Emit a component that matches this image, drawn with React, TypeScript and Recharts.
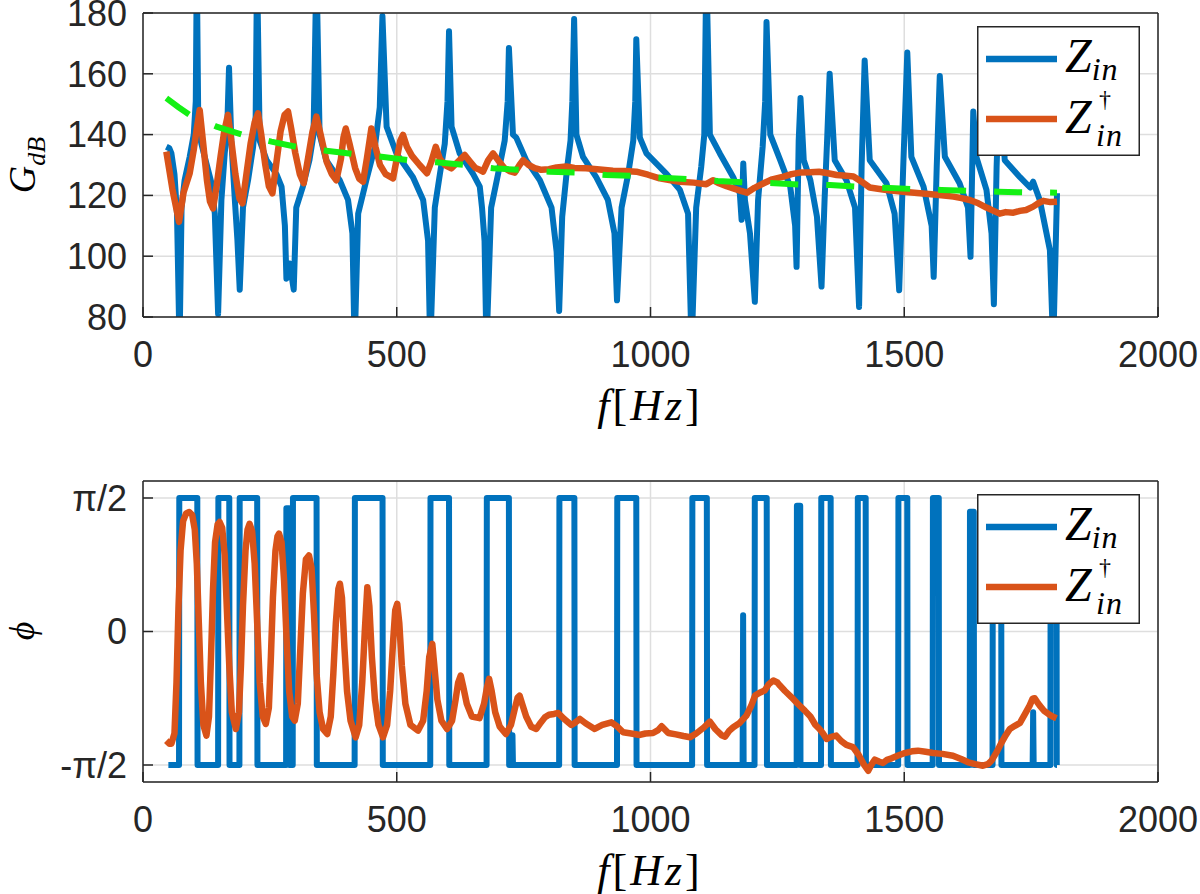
import { LineChart, Line, XAxis, YAxis, CartesianGrid, Legend } from 'recharts';

// frequency axis (Hz) and y ticks
const HZ_TICKS = [0, 500, 1000, 1500, 2000];
const DB_TICKS = [80, 100, 120, 140, 160, 180];
const PHASE_TICKS = [-Math.PI / 2, 0, Math.PI / 2];
const PHASE_LABELS = ['-π/2', '0', 'π/2'];

// Z_in gain [f (Hz), dB] – peaks/dips beyond the axis are clipped
const zinGain: [number, number][] = [
  [46, 136], [52, 135.5], [56, 133.8], [62, 127], [67, 114], [72, 70],
  [76, 116], [82, 125], [92, 132.7], [100, 140], [104, 151], [106, 195],
  [109, 142.6], [115, 137], [125, 130.5], [135, 124], [141.5, 114], [148, 81],
  [154.5, 118.5], [161, 133.8], [166, 142.6], [169.5, 162],
  [174, 138], [181, 118.5], [186, 105.4], [190.6, 89],
  [197, 116], [207, 125], [217, 136], [222, 146], [224.7, 195],
  [230, 138], [243.6, 131.6], [263, 127], [273, 122.9], [279.6, 110], [282.6, 92.6], [289, 97.6], [297, 89],
  [302, 116], [315, 122.9], [328, 131.6], [336, 140], [341.7, 195],
  [348, 140], [361, 131.6], [387.6, 125], [404, 118.5], [412.6, 107.5], [417, 70],
  [424, 114], [440, 125], [457, 136], [466.5, 149], [471.8, 179],
  [480, 142.6], [499.4, 133.8], [532, 126], [552, 118.5], [561.7, 105], [566, 70],
  [575, 116], [585, 127], [594.6, 137], [600, 151], [603, 174],
  [608, 142.6], [624, 133.8], [650.6, 127], [663.6, 122.9], [668, 116], [673, 105], [676.8, 70],
  [686, 116], [699.6, 127], [712.7, 138], [718.6, 151], [721, 168.5],
  [729, 140], [735.5, 139], [755, 131.6], [782, 125], [805, 116], [815, 101.5], [820, 82],
  [826, 113], [836, 129.5], [842.4, 138], [846, 151], [849.5, 178],
  [854, 140], [867, 132.7], [893, 126], [916, 118.5], [929, 107.5], [934, 85.5],
  [943, 116], [956, 127], [966, 138], [970, 151], [972, 171.4],
  [979, 139], [992, 133.8], [1032, 127], [1058, 121.8], [1074, 114], [1081, 70],
  [1090, 116], [1100, 129.5], [1106, 140], [1110, 195],
  [1117, 140], [1136.6, 133.8], [1163, 126], [1176, 120.7], [1179.5, 112], [1182.8, 130.5], [1186, 118.5], [1196, 107.5], [1205.6, 85],
  [1212, 118.5], [1221, 136], [1226, 151], [1228.6, 177],
  [1236, 140], [1255.6, 131.6], [1275.3, 122.9], [1285, 110], [1287.8, 96.5],
  [1292, 138], [1295.6, 152],
  [1302, 131.6], [1315, 125], [1328, 113], [1337, 90],
  [1343, 118.5], [1348, 138], [1353, 160],
  [1363, 131.6], [1386, 125], [1403, 116], [1411, 83.3],
  [1416, 129.5], [1422, 164.4],
  [1432, 131.6], [1465, 124], [1481, 114], [1490, 88.8],
  [1498, 129.5], [1506, 167],
  [1514, 132.7], [1538, 122.9], [1554, 110], [1558, 93.2],
  [1564, 129.5], [1570, 159.3],
  [1580, 132.7], [1609, 124], [1625.6, 116], [1630.6, 99.8],
  [1636, 147.6],
  [1642, 132.7], [1662, 121.8], [1672, 107.5], [1676.6, 84.2],
  [1682, 129.5], [1688, 160],
  [1698, 131.6], [1728, 126], [1748, 122.6], [1754, 124.5], [1767, 118.5], [1787, 102], [1793.5, 70], [1801, 120.7],
];

// Z_in dagger gain [f, dB]
const zinDagGain: [number, number][] = [
  [46, 134.4], [58, 122], [71, 111.3], [80, 121], [92, 127.3], [100, 135], [106, 142], [111.7, 148.1],
  [118, 138], [126, 125], [132, 118], [138, 115.7], [145, 123], [153, 133], [160, 141], [167.5, 146.5],
  [174, 138], [182, 127], [190, 119], [196, 117.4], [203, 126], [212, 137], [220, 144], [226.6, 147],
  [233, 140], [241, 130], [248, 123], [255, 120.7], [263, 131], [271, 141], [279, 146.5], [285.8, 147.6],
  [292, 142], [300, 134], [309, 127], [316.7, 124], [325, 132], [334, 141], [341.7, 145.9],
  [350, 140], [362, 131], [372, 127], [381, 125], [390, 132], [395, 139], [399.5, 142],
  [407, 137], [418, 129], [426, 125.5], [433.6, 124.5], [441, 132], [450, 142],
  [458, 136], [467, 130], [478, 127], [492.7, 125.6], [500, 132], [507, 138], [512.4, 139.9],
  [520, 136], [530, 133], [545, 130], [559.7, 127.3], [568, 131], [576.9, 136],
  [585, 132], [595, 130], [607.8, 128.9], [620, 131], [634, 133.3],
  [645, 131], [655, 129], [663.6, 128.4], [670, 127.8], [680, 131.5], [689.8, 133.8],
  [700, 131.5], [712, 129], [722, 128], [732.6, 127.5], [742, 130], [749, 131.6],
  [760, 130], [772, 129], [785, 128.4], [800, 128.6], [815, 129.2], [834, 129.5], [850, 129],
  [873, 128.9], [900, 128.5], [926, 128.1], [950, 128], [972, 127.8], [995, 126.8], [1018, 125.6],
  [1040, 125], [1058, 124.5], [1085, 124.2], [1110, 123.7], [1123, 125], [1135, 124], [1150, 123],
  [1163, 122.3], [1178, 121.5], [1190, 120.9], [1205, 122.5], [1223, 124], [1240, 125.3], [1262, 126.2],
  [1278, 127], [1294, 127.5], [1315, 127.6], [1332, 127.8], [1350, 127.3], [1367, 126.7], [1385, 126.5],
  [1400, 126.2], [1416, 124.5], [1432, 122.6], [1448, 122.2], [1465, 121.8], [1498, 121.2], [1531, 120.7],
  [1564, 120.2], [1597, 119.6], [1613, 119.1], [1629, 118.5], [1646, 117.4], [1662, 116], [1675, 115],
  [1688, 114], [1700, 114.5], [1715, 114.3], [1728, 114.9], [1740, 115.2], [1754, 116.3], [1765, 117.5],
  [1774, 118.2], [1788, 117.8], [1801, 117.9],
];

// trend line (green dashed) [f, dB]
const trendGain: [number, number][] = [
  [46, 152], [70, 149], [92, 146.5], [145, 142.6], [197, 139.9], [253, 137.7], [302, 136], [361, 134.7],
  [414, 133.6], [470, 132.7], [522, 131.6], [578, 130.9], [634, 130], [690, 128.9], [742, 128.4],
  [801, 127.8], [853, 127.5], [913, 126.7], [965, 126.4], [1021, 125.8], [1074, 125.4], [1133, 124.7],
  [1186, 124.3], [1245, 124], [1294, 123.6], [1354, 123.4], [1406, 122.9], [1462, 122.5], [1518, 122.1],
  [1573, 121.8], [1629, 121.5], [1685, 121.2], [1737, 121], [1801, 120.9],
];

// Z_in phase [f, rad]
const zinPhase: [number, number][] = [
  [50, -1.571], [71, -1.571], [71.5, 1.571], [107, 1.571], [107.5, -1.571], [148, -1.571], [148.5, 1.571],
  [170, 1.571], [170.5, -1.571], [190, -1.571], [190.5, 1.571], [225, 1.571], [225.5, -1.571],
  [282, -1.571], [282.5, 1.45], [288, 1.45], [288.5, -1.571], [295, -1.571], [295.5, 1.571],
  [342, 1.571], [342.5, -1.571], [417, -1.571], [417.5, 1.571], [472, 1.571], [472.5, -1.571],
  [566, -1.571], [566.5, 1.571], [603, 1.571], [603.5, -1.571], [677, -1.571], [677.5, 1.571],
  [721, 1.571], [721.5, -1.571], [727, -1.571], [728, -1.22], [729, -1.571], [820, -1.571], [820.5, 1.571],
  [850, 1.571], [850.5, -1.571], [934, -1.571], [934.5, 1.571], [972, 1.571], [972.5, -1.571],
  [1082, -1.571], [1082.5, 1.571], [1111, 1.571], [1111.5, -1.571], [1181.5, -1.571], [1182.5, 0.19],
  [1183.5, -1.571], [1205, -1.571], [1205.5, 1.571], [1229, 1.571], [1229.5, -1.571],
  [1288, -1.571], [1288.5, 1.48], [1295, 1.48], [1295.5, -1.571], [1336, -1.571], [1336.5, 1.571],
  [1355, 1.571], [1355.5, -1.571], [1408, -1.571], [1408.5, 1.571], [1424, 1.571], [1424.5, -1.571],
  [1488, -1.571], [1488.5, 1.571], [1506, 1.571], [1506.5, -1.571], [1556, -1.571], [1556.5, 1.571],
  [1568, 1.571], [1568.5, -1.571], [1629, -1.571], [1629.5, 1.41], [1637, 1.41], [1637.5, -1.571],
  [1674, -1.571], [1674.5, 1.571], [1691, 1.571], [1691.5, -1.571], [1753, -1.571], [1754, -0.95],
  [1755, -1.571], [1788, -1.571], [1788.5, 1.571], [1800, 1.571], [1800.5, -1.571], [1801, -1.571],
];

// Z_in dagger phase [f, rad]
const zinDagPhase: [number, number][] = [
  [46, -1.284], [52, -1.32], [56, -1.32], [62, -1.2], [66, -0.6], [70, 0.3], [74, 0.95], [79, 1.3],
  [85, 1.39], [91, 1.406], [97, 1.37], [102, 1.2], [106, 0.8], [110, 0.1], [114, -0.6], [119, -1.1],
  [125, -1.225], [130, -1.0], [134, -0.3], [138, 0.5], [142, 1.05], [147, 1.26], [151, 1.288], [156, 1.22],
  [161, 0.9], [165, 0.3], [170, -0.4], [175, -0.95], [183, -1.147], [189, -0.95], [193, -0.4], [197, 0.3],
  [202, 0.95], [206, 1.2], [210, 1.268], [215, 1.18], [220, 0.8], [225, 0.1], [230, -0.6], [236, -1.0],
  [242, -1.088], [248, -0.9], [252, -0.3], [256, 0.4], [261, 0.95], [265, 1.12], [268, 1.151], [273, 1.05],
  [278, 0.6], [283, -0.1], [288, -0.7], [294, -1.0], [299, -1.049], [305, -0.85], [310, -0.2], [315, 0.45],
  [321, 0.85], [327, 0.895], [332, 0.75], [337, 0.2], [342, -0.5], [348, -0.95], [355, -1.15], [363, -1.206],
  [370, -1.0], [375, -0.5], [380, 0.1], [385, 0.5], [388, 0.562], [392, 0.4], [397, -0.2], [402, -0.7],
  [409, -1.05], [419, -1.245], [426, -1.1], [432, -0.6], [437, 0.0], [442, 0.522], [446, 0.3], [451, -0.3],
  [457, -0.8], [464, -1.1], [473, -1.245], [481, -1.1], [487, -0.7], [493, -0.1], [497, 0.25], [501, 0.326],
  [505, 0.1], [510, -0.4], [517, -0.85], [527, -1.1], [542, -1.166], [552, -1.05], [559, -0.7], [564, -0.3],
  [570, -0.145], [574, -0.4], [580, -0.8], [588, -1.05], [599, -1.147], [609, -1.05], [616, -0.8],
  [621, -0.6], [626, -0.518], [631, -0.65], [638, -0.85], [648, -1.0], [663, -1.02], [672, -0.85],
  [678, -0.65], [682, -0.558], [687, -0.7], [694, -0.95], [703, -1.12], [715, -1.206], [725, -1.1],
  [733, -0.9], [738, -0.78], [742, -0.754], [747, -0.85], [755, -1.0], [765, -1.12], [775, -1.147],
  [784, -1.07], [792, -1.01], [800, -0.98], [810, -0.97], [818, -0.958], [830, -1.03], [844, -1.1],
  [852, -1.07], [861, -1.029], [872, -1.08], [890, -1.147], [905, -1.1], [923, -1.068], [935, -1.12],
  [946, -1.186], [962, -1.2], [979, -1.217], [990, -1.2], [1005, -1.194], [1015, -1.16], [1022, -1.115],
  [1035, -1.194], [1050, -1.21], [1065, -1.23], [1078, -1.245], [1090, -1.2], [1105, -1.13], [1117, -1.06],
  [1128, -1.15], [1140, -1.22], [1147, -1.237], [1155, -1.17], [1163, -1.127], [1175, -1.08], [1189, -0.99],
  [1198, -0.88], [1206, -0.754], [1215, -0.72], [1225, -0.695], [1233, -0.62], [1242, -0.577], [1250, -0.6],
  [1255, -0.636], [1265, -0.7], [1278, -0.774], [1290, -0.85], [1304, -0.931], [1315, -1.0], [1325, -1.1],
  [1333, -1.147], [1340, -1.2], [1347, -1.264], [1356, -1.24], [1366, -1.225], [1376, -1.29], [1386, -1.335],
  [1399, -1.36], [1410, -1.45], [1420, -1.56], [1429, -1.638], [1436, -1.56], [1442, -1.508], [1450, -1.53],
  [1458, -1.547], [1466, -1.51], [1475, -1.492], [1488, -1.46], [1501, -1.43], [1515, -1.41], [1527, -1.402],
  [1542, -1.415], [1557, -1.43], [1575, -1.44], [1596, -1.461], [1612, -1.5], [1626, -1.539], [1640, -1.56],
  [1655, -1.579], [1665, -1.56], [1672, -1.52], [1682, -1.42], [1692, -1.304], [1700, -1.22], [1708, -1.147],
  [1718, -1.11], [1728, -1.076], [1738, -0.97], [1747, -0.872], [1753, -0.79], [1757, -0.785], [1762, -0.83],
  [1767, -0.872], [1775, -0.93], [1784, -0.97], [1792, -1.0], [1800, -1.021],
];

const BLUE = '#0072BD';
const ORANGE = '#D95319';
const GREEN = '#14F014';
const AXIS = '#262626';
const GRID = '#dedede';
const TICK_FONT = { fontSize: 36, fill: AXIS, fontFamily: "'Liberation Sans', Arial, sans-serif" };
const MATH_FONT = "'Liberation Serif', 'DejaVu Serif', serif";

const toRows = (pts: [number, number][]) => pts.map(([f, v]) => ({ f, v }));

function LegendBox() {
  return (
    <svg width={164} height={131} style={{ display: 'block' }}>
      <rect x={0.75} y={0.75} width={161.5} height={128.5} fill="#fff" stroke={AXIS} strokeWidth={1.5} />
      <line x1={9} y1={33} x2={80} y2={33} stroke={BLUE} strokeWidth={6.5} />
      <line x1={9} y1={93} x2={80} y2={93} stroke={ORANGE} strokeWidth={6.5} />
      <text x={88} y={46} style={{ fontFamily: MATH_FONT, fontStyle: 'italic' }} fontSize={48} fill="#000">
        Z<tspan fontSize={32} dy={8} letterSpacing={1}>in</tspan>
      </text>
      <text x={88} y={107} style={{ fontFamily: MATH_FONT, fontStyle: 'italic' }} fontSize={48} fill="#000">Z</text>
      <text x={122} y={81} style={{ fontFamily: MATH_FONT }} fontSize={24} fill="#000">†</text>
      <text x={119} y={120} style={{ fontFamily: MATH_FONT, fontStyle: 'italic' }} fontSize={32} letterSpacing={1} fill="#000">in</text>
    </svg>
  );
}

function FreqLabel({ y }: { y: number }) {
  return (
    <text x={650} y={y} textAnchor="middle" style={{ fontFamily: MATH_FONT }} fontSize={44} fill="#000" letterSpacing={3}>
      <tspan style={{ fontStyle: 'italic' }}>f</tspan>
      <tspan>[</tspan>
      <tspan style={{ fontStyle: 'italic' }}>Hz</tspan>
      <tspan>]</tspan>
    </text>
  );
}

function GainChart() {
  return (
    <LineChart width={1200} height={447} margin={{ top: 12, right: 41, bottom: 0, left: 0 }}>
      <CartesianGrid stroke={GRID} strokeWidth={1.5} />
      <XAxis
        type="number"
        dataKey="f"
        domain={[0, 2000]}
        ticks={HZ_TICKS}
        interval={0}
        allowDataOverflow
        height={130}
        stroke={AXIS}
        strokeWidth={1.5}
        tickSize={-10}
        tickMargin={34}
        tick={TICK_FONT}
        label={() => <FreqLabel y={420} />}
      />
      <XAxis xAxisId="top" orientation="top" type="number" domain={[0, 2000]} ticks={HZ_TICKS} interval={0}
        height={1} stroke={AXIS} strokeWidth={1.5} tickSize={-10} tick={false} />
      <YAxis
        type="number"
        domain={[80, 180]}
        ticks={DB_TICKS}
        interval={0}
        allowDataOverflow
        width={143}
        stroke={AXIS}
        strokeWidth={1.5}
        tickSize={-10}
        tickMargin={26}
        tick={TICK_FONT}
        label={() => (
          <text transform="rotate(-90)" x={-165} y={35} textAnchor="middle"
            style={{ fontFamily: MATH_FONT, fontStyle: 'italic' }} fontSize={38} fill="#000">
            G<tspan fontSize={26} dy={10}>dB</tspan>
          </text>
        )}
      />
      <YAxis yAxisId="right" orientation="right" type="number" domain={[80, 180]} ticks={DB_TICKS} interval={0}
        width={1} stroke={AXIS} strokeWidth={1.5} tickSize={-10} tick={false} />
      <Line data={toRows(zinGain)} dataKey="v" stroke={BLUE} strokeWidth={6} dot={false} activeDot={false}
        isAnimationActive={false} strokeLinejoin="round" name="Zin" />
      <Line data={toRows(zinDagGain)} dataKey="v" stroke={ORANGE} strokeWidth={6.5} dot={false} activeDot={false}
        isAnimationActive={false} strokeLinejoin="round" name="Zin dagger" />
      <Line data={toRows(trendGain)} dataKey="v" stroke={GREEN} strokeWidth={6} strokeDasharray="28 28"
        dot={false} activeDot={false} isAnimationActive={false} legendType="none" />
      <Legend layout="vertical" align="center" verticalAlign="middle" content={() => <LegendBox />}
        wrapperStyle={{ left: 977, top: 26, width: 164, height: 131 }} />
    </LineChart>
  );
}

function PhaseChart() {
  return (
    <LineChart width={1200} height={447} margin={{ top: 33, right: 41, bottom: 0, left: 0 }}>
      <CartesianGrid stroke={GRID} strokeWidth={1.5} />
      <XAxis
        type="number"
        dataKey="f"
        domain={[0, 2000]}
        ticks={HZ_TICKS}
        interval={0}
        allowDataOverflow
        height={112}
        stroke={AXIS}
        strokeWidth={1.5}
        tickSize={-10}
        tickMargin={34}
        tick={TICK_FONT}
        label={() => <FreqLabel y={438} />}
      />
      <XAxis xAxisId="top" orientation="top" type="number" domain={[0, 2000]} ticks={HZ_TICKS} interval={0}
        height={1} stroke={AXIS} strokeWidth={1.5} tickSize={-10} tick={false} />
      <YAxis
        type="number"
        domain={[-Math.PI / 2 - 0.2, Math.PI / 2 + 0.2]}
        ticks={PHASE_TICKS}
        interval={0}
        allowDataOverflow
        width={143}
        stroke={AXIS}
        strokeWidth={1.5}
        tickSize={-10}
        tickMargin={26}
        tick={TICK_FONT}
        tickFormatter={(v: number) => PHASE_LABELS[PHASE_TICKS.findIndex((t) => Math.abs(t - v) < 1e-6)] ?? ''}
        label={() => (
          <text transform="rotate(-90)" x={-184} y={34} textAnchor="middle"
            style={{ fontFamily: MATH_FONT, fontStyle: 'italic' }} fontSize={36} fill="#000">
            ϕ
          </text>
        )}
      />
      <YAxis yAxisId="right" orientation="right" type="number" domain={[-Math.PI / 2 - 0.2, Math.PI / 2 + 0.2]}
        ticks={PHASE_TICKS} interval={0} width={1} stroke={AXIS} strokeWidth={1.5} tickSize={-10} tick={false} />
      <Line data={toRows(zinPhase)} dataKey="v" stroke={BLUE} strokeWidth={6} dot={false} activeDot={false}
        isAnimationActive={false} strokeLinejoin="round" name="Zin" />
      <Line data={toRows(zinDagPhase)} dataKey="v" stroke={ORANGE} strokeWidth={6.5} dot={false} activeDot={false}
        isAnimationActive={false} strokeLinejoin="round" name="Zin dagger" />
      <Legend layout="vertical" align="center" verticalAlign="middle" content={() => <LegendBox />}
        wrapperStyle={{ left: 977, top: 47, width: 164, height: 131 }} />
    </LineChart>
  );
}

export default function App() {
  return (
    <div style={{ position: 'absolute', left: 0, top: 0, width: 1200, height: 894, background: '#fff' }}>
      <div style={{ position: 'absolute', left: 0, top: 0 }}>
        <GainChart />
      </div>
      <div style={{ position: 'absolute', left: 0, top: 447 }}>
        <PhaseChart />
      </div>
    </div>
  );
}
